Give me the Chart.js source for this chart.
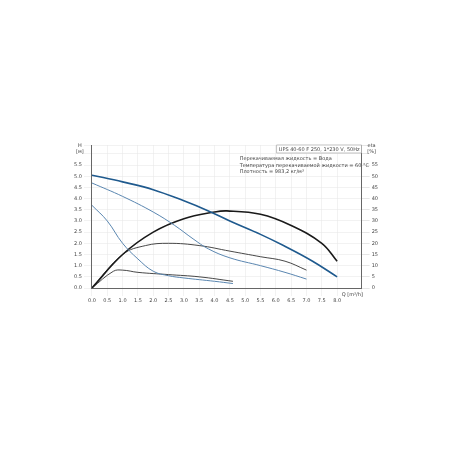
<!DOCTYPE html>
<html><head><meta charset="utf-8">
<script src="https://cdn.jsdelivr.net/npm/chart.js@4"></script>
<style>body{margin:0;background:#fff}#w{position:absolute;left:72px;top:140px;width:308px;height:168px}</style>
</head><body><div id="w"><canvas id="c"></canvas></div>
<script>
// curves of head (m) and efficiency (%) against flow
var hHigh = [[0,5.05],[1,4.75],[2,4.4],[3,3.9],[3.8,3.45],[4.5,3.0],[5.5,2.4],[6.25,1.9],[7.2,1.2],[8.0,0.5]];
var hMid = [[0,4.7],[1,4.1],[2,3.4],[2.7,2.8],[3.3,2.2],[3.8,1.75],[4.5,1.35],[5.5,1.0],[6.3,0.7],[7.0,0.4]];
var hLow = [[0,3.7],[0.5,3.0],[1.0,2.0],[1.5,1.3],[2.0,0.75],[2.5,0.55],[3.0,0.45],[4.0,0.3],[4.6,0.2]];
var etaHigh = [[0,0],[1,15],[2,25],[3,31],[4,34],[4.4,34.5],[5.5,33],[6.5,28],[7.5,20],[8.0,12]];
var etaMid = [[0,0],[1,15],[1.75,19],[2.5,20],[3.5,19],[4.5,16.5],[5.5,14],[6.3,12],[7.0,8]];
var etaLow = [[0,0],[0.7,7.5],[1.0,8],[1.5,7],[2.5,6],[3.5,5],[4.6,3]];
var infoLines = ['Перекачиваемая жидкость = Вода','Температура перекачиваемой жидкости = 60 °C','Плотность = 983,2 кг/м³'];
var title = 'UPS 40-60 F 250, 1*230 V, 50Hz';

function pts(a){ return a.map(function(p){ return {x:p[0], y:p[1]}; }); }
function ds(a, axis, color, w){
    return {data: pts(a), yAxisID: axis, borderColor: color, borderWidth: w, pointRadius: 0, tension: 0.4, fill: false};
}
var f = {family: "'DejaVu Sans', sans-serif", size: 5};

var textPlugin = {
    id: 'txt',
    afterDraw: function(chart){
        var c = chart.ctx, a = chart.chartArea;
        c.save();
        c.font = "5px 'DejaVu Sans'";
        c.textAlign = 'right';
        var tw = c.measureText(title).width;
        c.fillStyle = '#fff'; c.fillRect(a.right - tw - 4, a.top, tw + 4, 8);
        c.strokeStyle = '#999'; c.lineWidth = 0.6; c.strokeRect(a.right - tw - 4, a.top, tw + 4, 8);
        c.fillStyle = '#444'; c.fillText(title, a.right - 2, a.top + 6);
        c.textAlign = 'left';
        infoLines.forEach(function(t, i){ c.fillText(t, a.right - 122, a.top + 15 + i * 6.5); });
        c.fillText('Q [m³/h]', chart.scales.x.getPixelForValue(8.15), a.bottom + 8);
        c.textAlign = 'center';
        c.fillText('H', a.left - 12, a.top + 2); c.fillText('[м]', a.left - 12, a.top + 8);
        c.fillText('eta', a.right + 10, a.top + 2); c.fillText('[%]', a.right + 10, a.top + 8);
        c.restore();
    }
};

new Chart(document.getElementById('c'), {
    type: 'line',
    data: { datasets: [
        ds(hHigh, 'y', '#1f5a8e', 1.6),
        ds(hMid, 'y', '#5a86b0', 1),
        ds(hLow, 'y', '#5a86b0', 1),
        ds(etaHigh, 'y1', '#1a1a1a', 1.6),
        ds(etaMid, 'y1', '#333', 0.9),
        ds(etaLow, 'y1', '#333', 0.9)
    ]},
    plugins: [textPlugin],
    options: {
        responsive: true, maintainAspectRatio: false, animation: false,
        layout: {padding: {top: 2, bottom: 2}},
        plugins: {legend: {display: false}, tooltip: {enabled: false}},
        scales: {
            x: {type: 'linear', min: 0, max: 8.8, border: {color: '#666'},
                grid: {color: '#e4e4e4', lineWidth: 0.5},
                ticks: {font: f, color: '#444', stepSize: 0.5, padding: 2, maxRotation: 0,
                    callback: function(v){ return v <= 8 ? v.toFixed(1) : ''; }}},
            y: {min: 0, max: 6.4, border: {color: '#666'},
                grid: {color: '#e4e4e4', lineWidth: 0.5},
                ticks: {font: f, color: '#444', stepSize: 0.5, padding: 2,
                    callback: function(v){ return v <= 5.5 ? v.toFixed(1) : ''; }}},
            y1: {position: 'right', min: 0, max: 64, border: {color: '#666'},
                grid: {drawOnChartArea: false},
                ticks: {font: f, color: '#444', stepSize: 5, padding: 2,
                    callback: function(v){ return v <= 55 ? v : ''; }}}
        }
    }
});
</script></body></html>
